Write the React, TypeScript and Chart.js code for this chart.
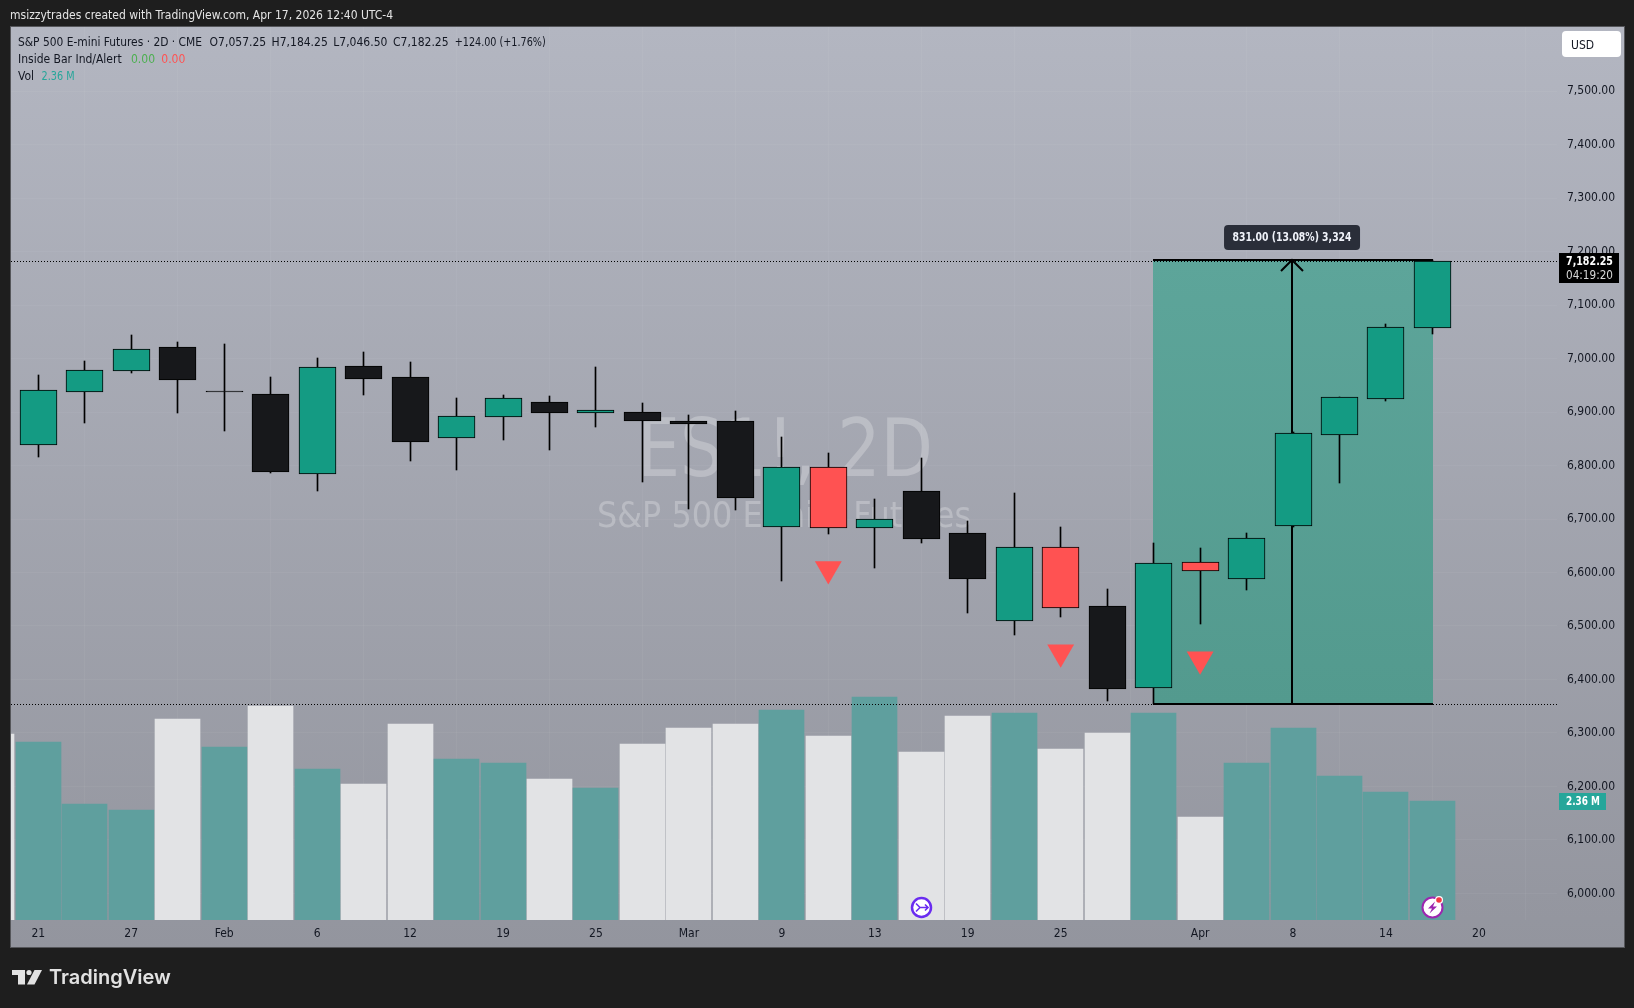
import React, { useEffect, useRef } from "react";
import { Chart, registerables } from "chart.js";

Chart.register(...registerables);

const candleIndex = Array.from({ length: 31 }, (_, i) => i);
const opens = [6839, 6938, 6977.4, 7021, 6938.9, 6933, 6784.8, 6985.5, 6965, 6852, 6891.4, 6918, 6898.8, 6899.4, 6882.6, 6882.6, 6685.7, 6796.6, 6683.8, 6751.7, 6673.2, 6510, 6647, 6536.7, 6384.7, 6619, 6588.4, 6687.5, 6857.7, 6925, 7057.25];
const closes = [6940.6, 6978, 7017, 6960.5, 6938.5, 6788.5, 6983.6, 6962.4, 6844.6, 6892, 6925.6, 6899, 6903.8, 6883.9, 6878.3, 6739.9, 6796.6, 6683.8, 6699.4, 6663.2, 6588.5, 6647, 6534.3, 6382.8, 6617.1, 6603.4, 6663.8, 6860.1, 6927.4, 7058.3, 7182.25];
const highs = [6969.3, 6995.4, 7044, 7031, 7027, 6965.5, 7001, 7012, 6993.6, 6926, 6932, 6930, 6984, 6916.9, 6893.8, 6902, 6853.3, 6823.4, 6737.4, 6814, 6696.3, 6748.6, 6685, 6569, 6654.5, 6645.8, 6673.2, 6862, 6929, 7063.9, 7184.25];
const lows = [6816.6, 6880, 6973.6, 6899, 6865.2, 6786.6, 6753, 6932.5, 6809, 6792.3, 6848.4, 6829.7, 6872, 6769.8, 6718.7, 6716.9, 6584.1, 6672, 6608.4, 6655.2, 6524.3, 6483, 6516.8, 6359.7, 6353.25, 6504.3, 6567.9, 6686, 6767.9, 6920.6, 7046.5];
const candleKinds = "gggkkkgkkggkgkkkgrgkkgrkgrggggg".split("");

const volumes = [3.69, 3.53, 2.3, 2.18, 3.99, 3.43, 4.24, 2.99, 2.7, 3.89, 3.19, 3.11, 2.8, 2.62, 3.49, 3.81, 3.89, 4.16, 3.65, 4.42, 3.33, 4.05, 4.1, 3.39, 3.71, 4.1, 2.04, 3.11, 3.81, 2.86, 2.54, 2.36];
const volumeKinds = "wgggwgwgwwggwgwwwgwgwwgwwgwggggg".split("");

const signalIndex = [17, 22, 25];
const signalPrices = [6606.6, 6450.8, 6437.7];

const priceTicks = [6000, 6100, 6200, 6300, 6400, 6500, 6600, 6700, 6800, 6900, 7000, 7100, 7200, 7300, 7400, 7500];
const timeTickIndex = [0, 2, 4, 6, 8, 10, 12, 14, 16, 18, 20, 22, 25, 27, 29, 31];
const timeTickLabels = ["21", "27", "Feb", "6", "12", "19", "25", "Mar", "9", "13", "19", "25", "Apr", "8", "14", "20"];

const lastPrice = 7182.25;
const rangeLow = 6353.25;
const rangeHigh = 7184.25;
const rangeStart = 24;
const rangeEnd = 30;
const rangeMid = 27;

const AXIS_FONT = '"DejaVu Sans Condensed", "Liberation Sans", sans-serif';
const UI = "#131722";

const colorOf: Record<string, string> = { g: "#149b83", k: "#17181b", r: "#ff5252", w: "#e2e3e5", t: "#5f9f9e" };

function text(ctx: CanvasRenderingContext2D, s: string, x: number, y: number, font: string, color: string, align: CanvasTextAlign = "left", maxWidth?: number) {
  ctx.font = font;
  ctx.fillStyle = color;
  ctx.textAlign = align;
  ctx.textBaseline = "middle";
  if (maxWidth) ctx.fillText(s, x, y, maxWidth);
  else ctx.fillText(s, x, y);
}

const backdrop = {
  id: "backdrop",
  beforeDraw(chart: any) {
    const { ctx } = chart;
    ctx.save();
    ctx.fillStyle = "#1e1e1e";
    ctx.fillRect(0, 0, 1634, 1008);
    ctx.fillStyle = "#55565a";
    ctx.fillRect(10, 26, 1615, 922);
    const g = ctx.createLinearGradient(0, 27, 0, 947);
    g.addColorStop(0, "#b3b6c1");
    g.addColorStop(1, "#93959e");
    ctx.fillStyle = g;
    ctx.fillRect(11, 27, 1613, 920);
    ctx.restore();
  },
  beforeDatasetsDraw(chart: any) {
    const { ctx } = chart;
    ctx.save();
    text(ctx, "ES1!, 2D", 785, 455, '80px "DejaVu Sans Condensed", sans-serif', "rgba(255,255,255,0.25)", "center", 296);
    text(ctx, "S&P 500 E-mini Futures", 784, 518, '36px "DejaVu Sans Condensed", sans-serif', "rgba(255,255,255,0.25)", "center", 374);
    ctx.restore();
  },
};

// snaps the library's bar elements to whole pixels so wicks and borders stay crisp
const pixelSnap = {
  id: "pixelSnap",
  beforeDatasetsDraw(chart: any) {
    chart.data.datasets.forEach((ds: any, i: number) => {
      if (ds.type !== "bar") return;
      chart.getDatasetMeta(i).data.forEach((el: any) => {
        const w = ds.barThickness;
        el.x = w % 2 ? Math.floor(el.x) + 0.5 : Math.round(el.x);
        el.width = w;
        let top = Math.round(Math.min(el.y, el.base));
        let bottom = Math.round(Math.max(el.y, el.base));
        if (bottom - top < 1) bottom = top + 1;
        el.y = top;
        el.base = bottom;
        el.height = bottom - top;
      });
    });
  },
};

const drawings = {
  id: "drawings",
  afterDatasetDraw(chart: any, args: any) {
    if (args.index !== 0) return;
    const { ctx } = chart;
    const x = chart.scales.x;
    const y = chart.scales.y;
    const { left, right } = chart.chartArea;
    const x0 = Math.round(x.getPixelForValue(rangeStart)) - 1;
    const x1 = Math.round(x.getPixelForValue(rangeEnd)) + 1;
    const xm = Math.round(x.getPixelForValue(rangeMid)) - 1;
    const yt = Math.round(y.getPixelForValue(rangeHigh));
    const yb = Math.round(y.getPixelForValue(rangeLow));
    ctx.save();
    const g = ctx.createLinearGradient(0, yt, 0, yb);
    g.addColorStop(0, "#5da59a");
    g.addColorStop(1, "#539a8e");
    ctx.fillStyle = g;
    ctx.fillRect(x0, yt, x1 - x0, yb - yt);
    ctx.strokeStyle = "#000";
    ctx.lineWidth = 1;
    ctx.setLineDash([1, 2]);
    for (const p of [lastPrice, rangeLow]) {
      const py = Math.round(y.getPixelForValue(p)) + 0.5;
      ctx.beginPath();
      ctx.moveTo(left, py);
      ctx.lineTo(right, py);
      ctx.stroke();
    }
    ctx.setLineDash([]);
    ctx.lineWidth = 2;
    ctx.beginPath();
    ctx.moveTo(x0, yt);
    ctx.lineTo(x1, yt);
    ctx.moveTo(x0, yb);
    ctx.lineTo(x1, yb);
    ctx.moveTo(xm, yb);
    ctx.lineTo(xm, yt);
    ctx.moveTo(xm - 11, yt + 11);
    ctx.lineTo(xm, yt);
    ctx.lineTo(xm + 11, yt + 11);
    ctx.stroke();
    ctx.restore();
  },
};

const overlay = {
  id: "overlay",
  afterDraw(chart: any) {
    const { ctx } = chart;
    const y = chart.scales.y;
    const x = chart.scales.x;
    const top = "12px " + AXIS_FONT;
    ctx.save();
    text(ctx, "msizzytrades created with TradingView.com, Apr 17, 2026 12:40 UTC-4", 10, 16, top, "#e4e4e4");

    text(ctx, "S&P 500 E-mini Futures · 2D · CME", 18, 43, top, UI, "left", 184);
    text(ctx, "O7,057.25", 209.6, 43, top, UI);
    text(ctx, "H7,184.25", 271.6, 43, top, UI);
    text(ctx, "L7,046.50", 333.3, 43, top, UI);
    text(ctx, "C7,182.25", 393, 43, top, UI);
    text(ctx, "+124.00 (+1.76%)", 454.7, 43, top, UI, "left", 91);
    text(ctx, "Inside Bar Ind/Alert", 18, 60, top, UI);
    text(ctx, "0.00", 131, 60, top, "#4caf50");
    text(ctx, "0.00", 161.3, 60, top, "#ff5252");
    text(ctx, "Vol", 18, 77, top, UI);
    text(ctx, "2.36 M", 41.5, 77, top, "#26a69a", "left", 33);

    // USD button
    ctx.fillStyle = "#ffffff";
    ctx.beginPath();
    ctx.roundRect(1562, 31, 59, 26, 4);
    ctx.fill();
    text(ctx, "USD", 1571, 45.5, top, UI);

    // price tag
    const ty = Math.round(y.getPixelForValue(lastPrice));
    ctx.fillStyle = "#000";
    ctx.fillRect(1559, ty - 8, 60, 30);
    text(ctx, "7,182.25", 1613, ty + 1, "bold 12px " + AXIS_FONT, "#fff", "right", 47);
    text(ctx, "04:19:20", 1613, ty + 15, "12px " + AXIS_FONT, "#d8d8d8", "right", 47);

    // volume tag
    ctx.fillStyle = "#26a69a";
    ctx.fillRect(1559, 793, 47, 17);
    text(ctx, "2.36 M", 1583, 802, "bold 12px " + AXIS_FONT, "#fff", "center", 34);

    // measure tooltip
    const xm = x.getPixelForValue(rangeMid) - 1;
    ctx.fillStyle = "#2a2e39";
    ctx.beginPath();
    ctx.roundRect(xm - 68, 225, 136, 25, 4);
    ctx.fill();
    text(ctx, "831.00 (13.08%) 3,324", xm, 238, "600 12px " + AXIS_FONT, "#f0f3fa", "center", 119);

    // event badges
    const cy = 907.5;
    ctx.lineWidth = 2.5;
    ctx.fillStyle = "#fff";
    ctx.strokeStyle = "#6a2cf0";
    ctx.beginPath();
    ctx.arc(921.5, cy, 9.5, 0, Math.PI * 2);
    ctx.fill();
    ctx.stroke();
    ctx.lineWidth = 1.6;
    ctx.beginPath();
    ctx.moveTo(916, cy - 4);
    ctx.lineTo(920, cy);
    ctx.lineTo(928, cy);
    ctx.moveTo(925, cy - 3);
    ctx.lineTo(928, cy);
    ctx.lineTo(925, cy + 3);
    ctx.moveTo(920, cy);
    ctx.lineTo(916, cy + 4);
    ctx.stroke();

    ctx.lineWidth = 2;
    ctx.fillStyle = "#fff";
    ctx.strokeStyle = "#9c27b0";
    ctx.beginPath();
    ctx.arc(1432.5, cy, 10, 0, Math.PI * 2);
    ctx.fill();
    ctx.stroke();
    ctx.fillStyle = "#9c27b0";
    ctx.beginPath();
    ctx.moveTo(1435, cy - 6);
    ctx.lineTo(1428, cy + 1);
    ctx.lineTo(1432, cy + 1);
    ctx.lineTo(1429.5, cy + 6);
    ctx.lineTo(1437, cy - 1);
    ctx.lineTo(1433, cy - 1);
    ctx.closePath();
    ctx.fill();
    ctx.fillStyle = "#fff";
    ctx.beginPath();
    ctx.arc(1439, 900, 4, 0, Math.PI * 2);
    ctx.fill();
    ctx.fillStyle = "#f23645";
    ctx.beginPath();
    ctx.arc(1439, 900, 2.8, 0, Math.PI * 2);
    ctx.fill();

    // logo
    ctx.fillStyle = "#e2e2e2";
    ctx.fillRect(12, 970, 13, 5);
    ctx.fillRect(18, 975, 7, 9.5);
    ctx.beginPath();
    ctx.arc(29, 972.5, 2.6, 0, Math.PI * 2);
    ctx.fill();
    ctx.beginPath();
    ctx.moveTo(34.5, 970);
    ctx.lineTo(42, 970);
    ctx.lineTo(34.5, 984.5);
    ctx.lineTo(27, 984.5);
    ctx.closePath();
    ctx.fill();
    text(ctx, "TradingView", 49, 978, '600 20px Inter, "Liberation Sans", sans-serif', "#e2e2e2");
    ctx.restore();
  },
};

export default function App() {
  const ref = useRef<HTMLCanvasElement | null>(null);
  useEffect(() => {
    document.body.style.margin = "0";
    document.body.style.background = "#1e1e1e";
    const chart = new Chart(ref.current as HTMLCanvasElement, {
      type: "bar",
      data: {
        datasets: [
          {
            type: "bar",
            label: "Volume",
            yAxisID: "vol",
            order: 4,
            grouped: false,
            barThickness: 45,
            backgroundColor: volumeKinds.map((k) => colorOf[k === "g" ? "t" : "w"]),
            data: volumes.map((v, i) => ({ x: i - 1, y: v })),
          },
          {
            type: "bar",
            label: "Wicks",
            yAxisID: "y",
            order: 2,
            grouped: false,
            barThickness: 1,
            backgroundColor: "#000",
            data: candleIndex.map((i) => ({ x: i, y: [lows[i], highs[i]] })),
          },
          {
            type: "bar",
            label: "Bodies",
            yAxisID: "y",
            order: 1,
            grouped: false,
            barThickness: 37,
            borderWidth: 1,
            borderColor: "#000",
            borderSkipped: false,
            backgroundColor: candleKinds.map((k) => colorOf[k]),
            data: candleIndex.map((i) => ({ x: i, y: [opens[i], closes[i]] })),
          },
          {
            type: "scatter",
            label: "Inside Bar",
            yAxisID: "y",
            order: 0,
            pointStyle: "triangle",
            rotation: 180,
            radius: 15.5,
            backgroundColor: "#ff5252",
            borderWidth: 0,
            data: signalIndex.map((i, n) => ({ x: i, y: signalPrices[n] })),
          },
        ] as any,
      },
      options: {
        animation: false,
        responsive: false,
        devicePixelRatio: 1,
        layout: { autoPadding: false, padding: { left: 11, top: 27, right: 10, bottom: 61 } },
        plugins: { legend: { display: false }, tooltip: { enabled: false } },
        scales: {
          x: {
            type: "linear",
            min: -0.587,
            max: 32.68,
            offset: false,
            border: { display: false },
            grid: { color: "rgba(255,255,255,0.045)", drawTicks: false },
            afterBuildTicks: (s: any) => {
              s.ticks = timeTickIndex.map((value) => ({ value }));
            },
            afterFit: (s: any) => {
              s.height = 27;
              s.paddingLeft = 0;
              s.paddingRight = 0;
            },
            ticks: {
              autoSkip: false,
              maxRotation: 0,
              padding: 7,
              color: UI,
              font: { family: AXIS_FONT, size: 12 },
              callback: (v: any) => timeTickLabels[timeTickIndex.indexOf(v)],
            },
          },
          y: {
            position: "right",
            min: 5950.35,
            max: 7619.85,
            border: { display: false },
            grid: { color: "rgba(255,255,255,0.045)", drawTicks: false },
            afterBuildTicks: (s: any) => {
              s.ticks = priceTicks.map((value) => ({ value }));
            },
            afterFit: (s: any) => {
              s.width = 67;
              s.paddingTop = 0;
              s.paddingBottom = 0;
            },
            ticks: {
              autoSkip: false,
              padding: 10,
              color: UI,
              font: { family: AXIS_FONT, size: 12 },
              callback: (v: any) => Number(v).toLocaleString("en-US", { minimumFractionDigits: 2 }),
            },
          },
          vol: { display: false, min: 0, max: 17.71 },
        },
      } as any,
      plugins: [backdrop, pixelSnap, drawings, overlay] as any,
    });
    return () => chart.destroy();
  }, []);
  return <canvas ref={ref} width={1634} height={1008} style={{ display: "block", width: 1634, height: 1008 }} />;
}
